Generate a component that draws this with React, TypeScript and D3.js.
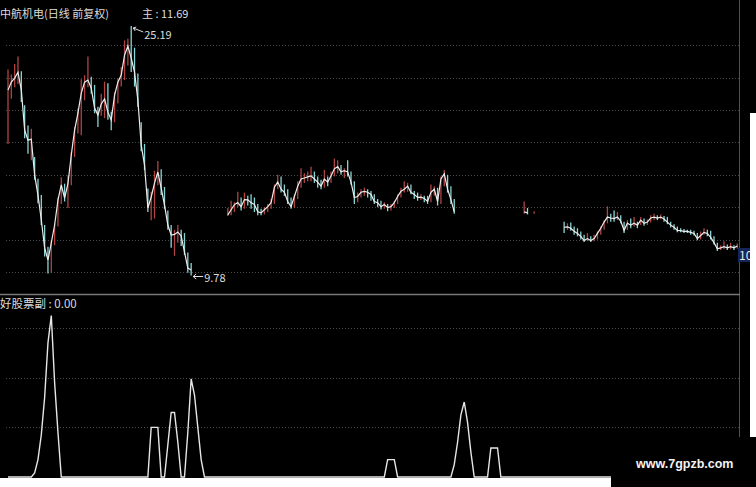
import React, { useEffect, useRef } from 'react';
import * as d3 from 'd3';

// daily bars, index = trading-day slot; gaps between segments are empty days
const seg1Start = 0;
const seg1Close = [21.23, 21.72, 21.97, 22.34, 21.23, 18.76, 18.14, 18.2, 15.98, 14.75, 13.21, 11.48, 10.74, 11.79, 12.9, 14.44, 15.37, 14.56, 15.45, 17.22, 18.76, 19.81, 21.05, 21.72, 21.85, 21.35, 20.12, 19.69, 20.37, 20.68, 19.87, 19.38, 20.92, 21.72, 22.16, 23.39, 23.95, 23.21, 22.34, 20.61, 17.84, 16.6, 13.95, 14.63, 15.49, 16.17, 15.18, 14.13, 12.9, 12.28, 12.32, 12.47, 12.22, 11.23, 10.24, 10.12];
const seg1High = [22.5, 22.2, 22.85, 23.3, 22.4, 20.3, 19.05, 18.85, 17.1, 15.75, 14.75, 12.9, 11.55, 11.95, 13.0, 14.6, 15.85, 15.45, 15.95, 17.4, 18.95, 20.1, 21.9, 22.15, 23.3, 22.05, 21.55, 20.2, 21.0, 21.75, 21.65, 19.9, 21.1, 21.95, 22.65, 24.3, 24.4, 25.19, 23.85, 22.25, 19.25, 17.9, 15.15, 14.95, 16.25, 16.85, 16.35, 15.25, 13.8, 12.9, 12.6, 12.9, 12.6, 12.4, 11.2, 10.55];
const seg1Low = [17.9, 20.7, 21.4, 21.6, 20.5, 18.25, 17.3, 16.9, 15.7, 14.25, 12.9, 10.95, 9.9, 9.95, 11.65, 12.8, 14.2, 14.35, 13.95, 15.35, 17.1, 18.55, 18.45, 20.6, 21.4, 21.0, 19.8, 18.95, 19.65, 19.5, 19.4, 18.75, 19.25, 20.4, 21.45, 21.85, 22.75, 22.35, 21.45, 20.2, 17.45, 16.3, 13.7, 13.2, 13.3, 15.35, 14.75, 13.9, 12.6, 11.5, 11.0, 11.8, 11.6, 11.05, 9.95, 9.78];

const seg2Start = 66;
const seg2Close = [13.52, 13.84, 14.16, 14.28, 14.03, 14.47, 14.45, 14.28, 14.16, 13.71, 13.65, 13.84, 14.03, 14.28, 15.23, 15.55, 15.11, 14.92, 14.35, 14.03, 14.66, 15.3, 15.74, 15.8, 15.87, 15.93, 15.74, 15.55, 15.3, 15.74, 15.55, 15.93, 16.37, 16.5, 16.18, 16.25, 16.18, 15.55, 14.6, 14.66, 14.92, 14.98, 14.92, 14.79, 14.35, 14.28, 14.03, 14.16, 13.97, 14.03, 14.28, 14.66, 14.98, 15.11, 15.3, 14.92, 14.79, 14.6, 14.62, 14.54, 14.35, 14.92, 15.11, 14.35, 15.74, 16.06, 15.11, 14.47, 13.71];
const seg2High = [13.95, 14.4, 14.3, 14.95, 14.6, 14.9, 14.7, 14.8, 14.6, 14.2, 13.9, 14.0, 14.2, 14.5, 15.4, 16.0, 15.9, 15.4, 15.1, 14.6, 14.8, 15.6, 16.4, 16.1, 16.2, 16.5, 16.2, 15.9, 15.7, 16.3, 15.9, 16.2, 17.0, 16.9, 16.6, 16.4, 16.9, 16.2, 15.6, 14.9, 15.1, 15.2, 15.1, 15.0, 14.8, 14.5, 14.4, 14.3, 14.2, 14.2, 14.4, 14.8, 15.2, 15.6, 15.5, 15.4, 15.0, 14.9, 14.8, 14.7, 14.7, 15.4, 15.3, 15.2, 15.9, 16.3, 16.0, 15.3, 14.5];
const seg2Low = [13.45, 13.5, 13.7, 14.0, 13.8, 13.9, 14.1, 13.9, 13.7, 13.5, 13.5, 13.55, 13.7, 13.9, 14.2, 15.1, 14.9, 14.7, 14.2, 13.9, 13.95, 14.5, 15.2, 15.5, 15.6, 15.6, 15.5, 15.2, 15.1, 15.2, 15.3, 15.5, 15.9, 16.1, 16.0, 15.8, 15.9, 15.4, 14.2, 14.3, 14.6, 14.7, 14.6, 14.4, 14.2, 14.0, 13.85, 13.9, 13.75, 13.8, 13.95, 14.2, 14.6, 14.9, 14.95, 14.8, 14.5, 14.4, 14.45, 14.3, 14.2, 14.3, 14.7, 14.1, 14.2, 15.3, 14.9, 14.2, 13.6];

const seg3Start = 155;
const seg3Close = [13.71, 13.65, null, 13.65];
const seg3High = [14.35, 13.95, null, 13.75];
const seg3Low = [13.6, 13.55, null, 13.6];

const seg4Start = 167;
const seg4Close = [12.76, 12.78, 12.7, 12.51, 12.38, 12.19, 11.94, 12.06, 11.94, 12.06, 12.38, 12.7, 13.08, 13.39, 13.33, 13.3, 13.39, 13.14, 12.57, 13.01, 12.89, 13.01, 12.89, 13.2, 13.01, 13.08, 13.33, 13.39, 13.33, 13.39, 13.27, 13.08, 12.89, 12.76, 12.57, 12.55, 12.51, 12.5, 12.44, 12.38, 12.06, 12.25, 12.44, 12.38, 12.13, 11.81, 11.43, 11.49, 11.56, 11.49, 11.56, 11.49, 11.6];
const seg4High = [13.1, 13.0, 13.05, 12.8, 12.7, 12.5, 12.3, 12.4, 12.2, 12.3, 12.5, 12.8, 13.2, 14.05, 13.6, 13.8, 13.7, 13.5, 13.1, 13.2, 13.3, 13.4, 13.1, 13.4, 13.3, 13.25, 13.5, 13.6, 13.5, 13.55, 13.45, 13.4, 13.1, 12.95, 12.8, 12.7, 12.65, 12.6, 12.6, 12.55, 12.4, 12.5, 12.7, 12.6, 12.55, 12.2, 11.8, 11.65, 11.9, 11.7, 11.8, 11.65, 11.75];
const seg4Low = [12.4, 12.6, 12.55, 12.3, 12.2, 12.0, 11.85, 11.9, 11.85, 11.9, 12.0, 12.3, 12.6, 13.0, 13.1, 13.1, 13.2, 13.0, 12.4, 12.6, 12.7, 12.8, 12.7, 12.9, 12.85, 12.9, 13.05, 13.2, 13.2, 13.25, 13.1, 12.95, 12.75, 12.6, 12.45, 12.45, 12.4, 12.4, 12.3, 12.25, 11.95, 12.0, 12.3, 12.2, 12.0, 11.7, 11.3, 11.35, 11.4, 11.35, 11.4, 11.35, 11.45];

const slotCount = 220;
const priceTicks = [10, 12, 14, 16, 18, 20, 22, 24];

// 好股票副 indicator: non-zero runs, zero elsewhere
const subPeaks = [
  { at: 8, v: [1.6, 7, 17, 32, 54, 65, 38, 18] },
  { at: 43, v: [20, 20, 20] },
  { at: 48, v: [13, 26, 26, 14] },
  { at: 54, v: [18, 39.5, 33, 20, 7] },
  { at: 114, v: [7, 7, 7] },
  { at: 134, v: [5, 14, 25, 30.2, 22, 10] },
  { at: 145, v: [11.7, 11.7, 11.7] },
];
const subTicks = [20, 40, 60];

const RED = '#b04444';
const CYAN = '#8ad6d6';
const FONT = '"Noto Sans CJK SC", "Noto Sans", sans-serif';

const App: React.FC = () => {
  const svgRef = useRef<SVGSVGElement>(null);

  useEffect(() => {
    if (!svgRef.current) return;
    const svg = d3.select(svgRef.current);
    svg.selectAll('*').remove();

    const segs = [
      { start: seg1Start, close: seg1Close, high: seg1High, low: seg1Low },
      { start: seg2Start, close: seg2Close, high: seg2High, low: seg2Low },
      { start: seg3Start, close: seg3Close, high: seg3High, low: seg3Low },
      { start: seg4Start, close: seg4Close, high: seg4High, low: seg4Low },
    ];

    const closes: (number | null)[] = new Array(slotCount).fill(null);
    const bars: { i: number; c: number; h: number; l: number; up: boolean }[] = [];
    let prev: number | null = null;
    segs.forEach(s => {
      s.close.forEach((c, k) => {
        if (c == null) return;
        const i = s.start + k;
        closes[i] = c;
        bars.push({ i, c, h: s.high[k] as number, l: s.low[k] as number, up: prev == null || c >= prev });
        prev = c;
      });
    });

    const sub: number[] = new Array(slotCount).fill(0);
    subPeaks.forEach(p => p.v.forEach((v, k) => { sub[p.at + k] = v; }));

    const x = d3.scaleLinear().domain([0, slotCount - 1]).range([8, 737.3]);
    const y = d3.scaleLinear().domain([9.78, 25.19]).range([275.5, 26]);
    const ySub = d3.scaleLinear().domain([0, 60]).range([477, 328]);

    svg.append('rect').attr('width', 756).attr('height', 487).attr('fill', '#000');

    // grid
    const grid = svg.append('g').attr('stroke', '#4a4a4a').attr('stroke-dasharray', '1 2');
    grid.selectAll('line.p').data(priceTicks).enter().append('line')
      .attr('x1', 6).attr('x2', 739)
      .attr('y1', d => Math.round(y(d)) + 0.5).attr('y2', d => Math.round(y(d)) + 0.5);
    grid.selectAll('line.s').data(subTicks).enter().append('line')
      .attr('x1', 6).attr('x2', 739)
      .attr('y1', d => Math.round(ySub(d)) + 0.5).attr('y2', d => Math.round(ySub(d)) + 0.5);

    // frame
    svg.append('line').attr('x1', 739.5).attr('x2', 739.5).attr('y1', 0).attr('y2', 487).attr('stroke', '#505050');
    svg.append('line').attr('x1', 0).attr('x2', 740).attr('y1', 294.5).attr('y2', 294.5).attr('stroke', '#777').attr('stroke-width', 1.5);

    // candles
    svg.append('g').selectAll('line').data(bars).enter().append('line')
      .attr('x1', d => x(d.i)).attr('x2', d => x(d.i))
      .attr('y1', d => y(d.h)).attr('y2', d => y(d.l))
      .attr('stroke', d => (d.up ? RED : CYAN)).attr('stroke-width', 1.3);

    const line = d3.line<number | null>()
      .defined(d => d != null)
      .x((_, i) => x(i))
      .y(d => y(d as number));
    svg.append('path').datum(closes).attr('d', line).attr('fill', 'none')
      .attr('stroke', '#ececec').attr('stroke-width', 1.2);

    // high / low markers
    const hiBar = bars.reduce((a, b) => (b.h > a.h ? b : a));
    const loBar = bars.reduce((a, b) => (b.l < a.l ? b : a));
    const hx = x(hiBar.i), hy = y(hiBar.h);
    svg.append('path')
      .attr('d', `M${hx + 12},${hy + 6} L${hx + 2},${hy + 2} M${hx + 2},${hy + 2} l3,-1 M${hx + 2},${hy + 2} l2,3`)
      .attr('stroke', '#ddd').attr('fill', 'none');
    svg.append('text').attr('x', hx + 13).attr('y', hy + 13).attr('fill', '#ddd')
      .attr('font-size', 11).attr('font-family', FONT).text(d3.format('.2f')(hiBar.h));
    const lx = x(loBar.i), ly = y(loBar.l);
    svg.append('path')
      .attr('d', `M${lx + 12},${ly + 1} L${lx + 2},${ly + 1} l3,-2.5 M${lx + 2},${ly + 1} l3,2.5`)
      .attr('stroke', '#ddd').attr('fill', 'none');
    svg.append('text').attr('x', lx + 13).attr('y', ly + 6).attr('fill', '#ddd')
      .attr('font-size', 11).attr('font-family', FONT).text(d3.format('.2f')(loBar.l));

    // indicator
    const subLine = d3.line<number>().x((_, i) => x(i)).y(d => ySub(d));
    svg.append('path').datum(sub).attr('d', subLine).attr('fill', 'none')
      .attr('stroke', '#e6e6e6').attr('stroke-width', 1.4);

    // labels
    svg.append('text').attr('x', 0).attr('y', 18).attr('fill', '#dcdcdc').attr('font-size', 11)
      .attr('font-family', FONT).text('中航机电(日线 前复权)');
    svg.append('text').attr('x', 142).attr('y', 18).attr('fill', '#dcdcdc').attr('font-size', 11)
      .attr('font-family', FONT).text('主 : 11.69');
    svg.append('text').attr('x', 0).attr('y', 308).attr('fill', '#dcdcdc').attr('font-size', 11.5)
      .attr('font-family', FONT).text('好股票副 : 0.00');

    // price tag on axis
    svg.append('rect').attr('x', 738).attr('y', 248).attr('width', 14).attr('height', 14).attr('fill', '#14255a');
    svg.append('text').attr('x', 739).attr('y', 259.5).attr('fill', '#e8e8e8').attr('font-size', 12)
      .attr('font-family', FONT).text('10');

    // page edges of the screenshot
    svg.append('rect').attr('x', 750).attr('y', 113).attr('width', 6).attr('height', 324).attr('fill', '#fff');
    svg.append('rect').attr('x', 0).attr('y', 478).attr('width', 611).attr('height', 9).attr('fill', '#fff');
    svg.append('rect').attr('x', 611).attr('y', 437).attr('width', 145).attr('height', 50).attr('fill', '#000');
    svg.append('text').attr('x', 636).attr('y', 468).attr('fill', '#f2f2f2').attr('font-size', 12.5)
      .attr('font-weight', 'bold').attr('font-family', '"Liberation Sans", Arial, sans-serif').text('www.7gpzb.com');
  }, []);

  return (
    <svg ref={svgRef} width={756} height={487}
      style={{ position: 'absolute', left: 0, top: 0, display: 'block' }} />
  );
};

export default App;
